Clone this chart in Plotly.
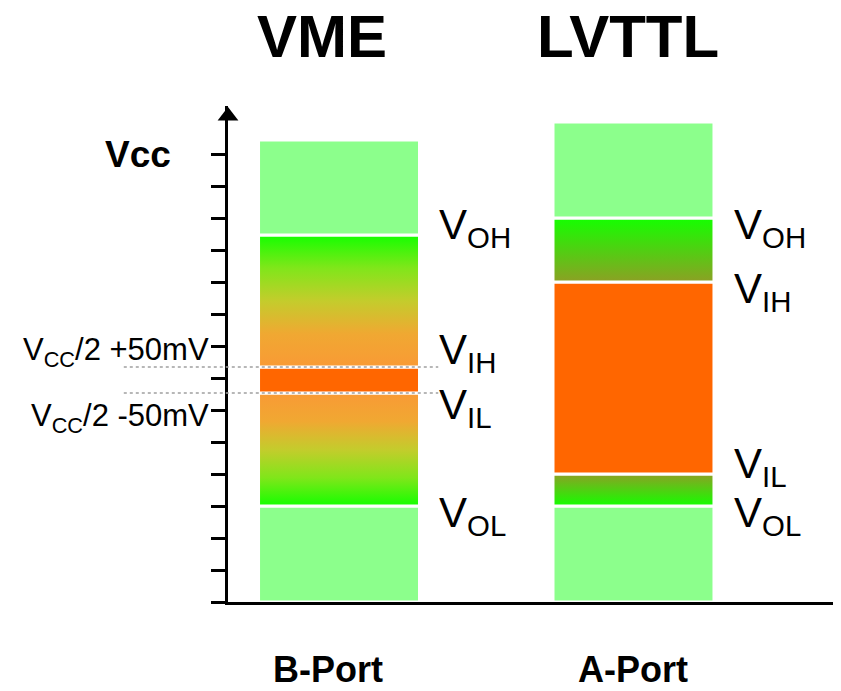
"""VME / LVTTL logic level diagram"""
import plotly.graph_objects as go

# ---- data ---------------------------------------------------------------
columns = ["VME", "LVTTL"]
ports = ["B-Port", "A-Port"]
col_x = [1, 4]

# segment boundaries, bottom -> top (tick units, Vcc = 14)
vme_bounds = [0, 3.0, 6.53, 7.34, 11.47, 14.44]
lvttl_bounds = [0, 3.0, 4.0, 10.0, 12.0, 15.0]

level_names = ["V<sub>OL</sub>", "V<sub>IL</sub>", "V<sub>IH</sub>", "V<sub>OH</sub>"]
vcc_tick = 14
ticks = list(range(0, 15))

# ---- styles -------------------------------------------------------------
FONT = "Liberation Sans, Arial, sans-serif"
LIGHT = "#8CFF8C"
GREEN = "#14FF00"
ORANGE = "#FF6600"
OLIVE = "#8CA024"
VME_UP = [[0, GREEN], [0.25, "#80E61A"], [0.5, "#C4CC2C"], [0.75, "#F0A832"], [1, "#F99A35"]]
VME_DOWN = [[1 - s, c] for s, c in reversed(VME_UP)]
LV_UP = [[0, GREEN], [1, OLIVE]]
LV_DOWN = [[0, OLIVE], [1, GREEN]]

seg_styles = {
    "VME": [LIGHT, VME_UP, ORANGE, VME_DOWN, LIGHT],
    "LVTTL": [LIGHT, LV_UP, ORANGE, LV_DOWN, LIGHT],
}
BAR_W = 1.64
# where the level labels sit (V centre), per column
label_y = {
    "VME": [2.84, 6.19, 7.92, 11.84],
    "LVTTL": [2.84, 4.375, 9.84, 11.84],
}
XR = [-0.131, 6.114]
YR = [0, 15.5]


def rect(xc, lo, hi):
    x0, x1 = xc - BAR_W / 2, xc + BAR_W / 2
    return [x0, x1, x1, x0, x0], [lo, lo, hi, hi, lo]


fig = go.Figure()
bounds_by_col = {"VME": vme_bounds, "LVTTL": lvttl_bounds}

for name, xc in zip(columns, col_x):
    b = bounds_by_col[name]
    for i, style in enumerate(seg_styles[name]):
        xs, ys = rect(xc, b[i], b[i + 1])
        kw = dict(x=xs, y=ys, mode="lines", fill="toself",
                  line=dict(color="white", width=3),
                  hoverinfo="skip", showlegend=False)
        if isinstance(style, str):
            kw["fillcolor"] = style
        else:
            kw["fillgradient"] = dict(type="vertical", colorscale=style,
                                      start=b[i], stop=b[i + 1])
        fig.add_trace(go.Scatter(**kw))

    # level labels
    for txt, yy in zip(level_names, label_y[name]):
        fig.add_annotation(x=xc + 1.0, y=yy, text=txt, showarrow=False,
                           xanchor="left", yanchor="middle", yshift=-4,
                           font=dict(size=42, color="black", family=FONT))

# arrow head on the y axis
fig.add_trace(go.Scatter(x=[XR[0]], y=[15.19], mode="markers",
                         marker=dict(symbol="triangle-up", size=18, color="black"),
                         cliponaxis=False, hoverinfo="skip", showlegend=False))

# Vcc/2 +-50mV threshold lines
for yy in vme_bounds[2:4]:
    fig.add_shape(type="line", xref="paper", yref="y",
                  x0=-0.17, x1=0.343, y0=yy, y1=yy, layer="above",
                  line=dict(color="#A0A0A0", width=1.5, dash="dot"))

# column titles and port names
for name, port, tx, px in zip(columns, ports, [0.827, 3.944], [0.888, 3.995]):
    fig.add_annotation(x=tx, y=1.14, xref="x", yref="paper", text=f"<b>{name}</b>",
                       showarrow=False, yanchor="middle", borderpad=0,
                       font=dict(size=60, color="black", family=FONT))
    fig.add_annotation(x=px, y=-0.137, xref="x", yref="paper", text=f"<b>{port}</b>",
                       showarrow=False, yanchor="middle", borderpad=0,
                       font=dict(size=36, color="black", family=FONT))

# left side labels
fig.add_annotation(x=0, y=vcc_tick, xref="paper", text="<b>Vcc</b>", showarrow=False,
                   xanchor="right", yanchor="middle", xshift=-55,
                   font=dict(size=37, color="black", family=FONT))
for txt, yy in zip(["V<sub>CC</sub>/2 +50mV", "V<sub>CC</sub>/2 -50mV"], [7.91, 5.84]):
    fig.add_annotation(x=0, y=yy, xref="paper", text=txt, showarrow=False,
                       xanchor="right", yanchor="middle", xshift=-17, yshift=-3,
                       font=dict(size=31, color="black", family=FONT))

# page body has an 8px margin, so the figure is 8px smaller than the window
fig.update_layout(
    width=833, height=683,
    margin=dict(l=220, r=0, t=98, b=89),
    plot_bgcolor="white", paper_bgcolor="white",
    font=dict(family=FONT),
    xaxis=dict(range=XR, showgrid=False, zeroline=False, showticklabels=False,
               showline=True, linecolor="black", linewidth=3),
    yaxis=dict(range=YR, showgrid=False, zeroline=False, showticklabels=False,
               showline=True, linecolor="black", linewidth=3,
               ticks="outside", ticklen=14, tickwidth=2.5, tickcolor="black",
               tickvals=ticks),
)

fig.write_html("out.html")
